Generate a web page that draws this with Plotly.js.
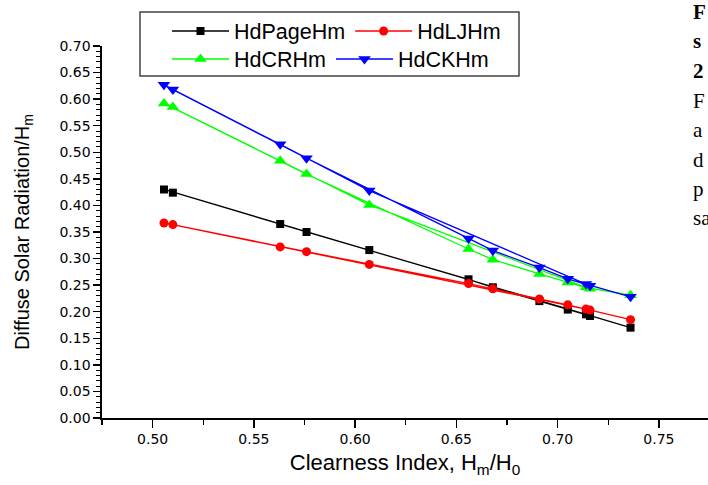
<!DOCTYPE html>
<html>
<head>
<meta charset="utf-8">
<script src="https://cdn.plot.ly/plotly-3.0.1.min.js"></script>
<style>html,body{margin:0;padding:0;background:#fff;}#chart{width:708px;height:485px;}</style>
</head>
<body>
<div id="chart"></div>
<script>
// Monthly values (Jan..Dec), line drawn in month order
const months = ["Jan","Feb","Mar","Apr","May","Jun","Jul","Aug","Sep","Oct","Nov","Dec"];
const clearnessIndex = [0.716, 0.705, 0.691, 0.668, 0.656, 0.576, 0.510, 0.5056, 0.563, 0.607, 0.714, 0.736];
const hdPageHm = [0.192, 0.204, 0.220, 0.246, 0.261, 0.350, 0.424, 0.430, 0.365, 0.316, 0.195, 0.170];
const hdLJHm   = [0.203, 0.213, 0.224, 0.243, 0.253, 0.313, 0.364, 0.367, 0.322, 0.289, 0.205, 0.185];
const hdCRHm   = [0.243, 0.255, 0.271, 0.298, 0.318, 0.459, 0.585, 0.592, 0.484, 0.401, 0.246, 0.231];
const hdCKHm   = [0.249, 0.262, 0.283, 0.315, 0.338, 0.489, 0.618, 0.627, 0.515, 0.428, 0.252, 0.228];
const seriesNames = ["HdPageHm", "HdLJHm", "HdCRHm", "HdCKHm"];
const yTickVals = [0,0.05,0.10,0.15,0.20,0.25,0.30,0.35,0.40,0.45,0.50,0.55,0.60,0.65,0.70];
const xTickVals = [0.50,0.55,0.60,0.65,0.70,0.75];
const sideText = [
  {t:"F", b:true}, {t:"s", b:true}, {t:"2", b:true},
  {t:"F", b:false}, {t:"a", b:false}, {t:"d", b:false}, {t:"p", b:false}, {t:"sa", b:false}
];

const seriesData = [hdPageHm, hdLJHm, hdCRHm, hdCKHm];
const colors = ["#000000", "#ff0000", "#00ff00", "#0000ff"];
const symbols = ["square", "circle", "triangle-up", "triangle-down"];
const sizes = [8, 9, 11, 11];
const legendIds = ["legend", "legend", "legend2", "legend2"];

const traces = seriesData.map((ys, i) => ({
  x: clearnessIndex, y: ys, name: seriesNames[i], text: months,
  type: "scatter", mode: "lines+markers",
  line: {color: colors[i], width: 1.3},
  marker: {color: colors[i], symbol: symbols[i], size: sizes[i]},
  legend: legendIds[i]
}));

const W = 708, H = 485, ml = 102, mr = 0, mt = 46, mb = 67;
const pw = W - ml - mr, ph = H - mt - mb;
const px = v => (v - ml) / pw;
const py = v => 1 - (v - mt) / ph;

const font = "Liberation Sans, Arial, sans-serif";
const tickFont = "DejaVu Sans, Liberation Sans, sans-serif";
const annotations = sideText.map((s, i) => ({
  xref: "paper", yref: "paper", x: px(691), y: py(12 + i * 29.5),
  xanchor: "left", yanchor: "middle", showarrow: false,
  text: s.b ? "<b>" + s.t + "</b>" : s.t,
  font: {family: "Liberation Serif, DejaVu Serif, serif", size: 21, color: "#000"}
}));

const layout = {
  width: W, height: H,
  margin: {l: ml, r: mr, t: mt, b: mb, pad: 0},
  paper_bgcolor: "#fff", plot_bgcolor: "#fff",
  font: {family: font, color: "#000"},
  showlegend: true,
  xaxis: {
    range: [0.475, 0.475 + pw / 2025],
    tickvals: xTickVals, tickformat: ".2f",
    ticks: "outside", ticklen: 8, tickwidth: 1.3, tickcolor: "#000",
    minor: {dtick: 0.025, tick0: 0.475, ticks: "outside", ticklen: 5, tickwidth: 1.3, tickcolor: "#000"},
    showline: true, linecolor: "#000", linewidth: 1.6,
    showgrid: false, zeroline: false,
    tickfont: {size: 14, family: tickFont},
    title: {text: "Clearness Index, H<sub>m</sub>/H<sub>0</sub>", font: {size: 22, family: font}, standoff: 8}
  },
  yaxis: {
    range: [0, 0.7],
    tickvals: yTickVals, tickformat: ".2f",
    ticks: "outside", ticklen: 7, tickwidth: 1.3, tickcolor: "#000",
    minor: {dtick: 0.01, tick0: 0, ticks: "outside", ticklen: 4, tickwidth: 1, tickcolor: "#000"},
    showline: true, linecolor: "#000", linewidth: 1.6,
    showgrid: false, zeroline: false,
    tickfont: {size: 14, family: tickFont},
    title: {text: "Diffuse Solar Radiation/H<sub>m</sub>", font: {size: 20, family: font}, standoff: 24}
  },
  legend: {
    orientation: "h", xref: "paper", yref: "paper",
    x: px(167), y: py(31), xanchor: "left", yanchor: "middle",
    bgcolor: "rgba(0,0,0,0)", borderwidth: 0,
    font: {size: 21.5, family: font}, itemwidth: 57
  },
  legend2: {
    orientation: "h", xref: "paper", yref: "paper",
    x: px(167), y: py(59), xanchor: "left", yanchor: "middle",
    bgcolor: "rgba(0,0,0,0)", borderwidth: 0,
    font: {size: 21.5, family: font}, itemwidth: 57
  },
  shapes: [{
    type: "rect", xref: "paper", yref: "paper",
    x0: px(140), x1: px(519), y0: py(76), y1: py(12),
    line: {color: "#444", width: 1.5}, fillcolor: "rgba(0,0,0,0)"
  }],
  annotations: annotations
};

Plotly.newPlot("chart", traces, layout, {displayModeBar: false, staticPlot: true});
</script>
</body>
</html>
